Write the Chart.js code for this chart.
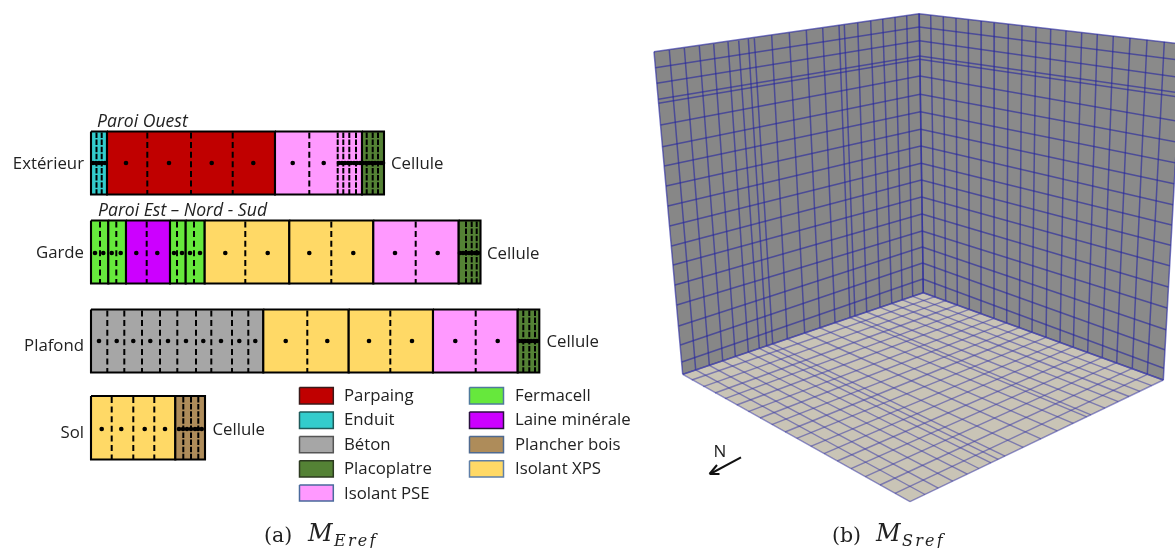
<!DOCTYPE html>
<html><head><meta charset="utf-8">
<style>html,body{margin:0;padding:0;background:#fff}canvas{display:block}</style>
<script src="https://cdn.jsdelivr.net/npm/chart.js@4"></script></head>
<body><canvas id="c" width="1175" height="548"></canvas>
<script>
// ---------- materials
const materials=['Parpaing','Enduit','Béton','Placoplatre','Isolant PSE','Fermacell','Laine minérale','Plancher bois','Isolant XPS'];
const materialColors=['#c00000','#33cccc','#a6a6a6','#548235','#ff99ff','#66e83c','#cc00ff','#ae8c5a','#ffd966'];
const materialEdges=['#3a1a1a','#1f5a5a','#555555','#2c3a20','#4a6a9c','#4f7a9c','#2a1040','#4f6a90','#5f7fa8'];
// ---------- walls
const wallNames=['Extérieur','Garde','Plafond','Sol'];
const wallTitles=['Paroi Ouest','Paroi Est – Nord - Sud'];
const wallTop=[131.5,220.5,309.5,396];
const wallBottom=[194.5,283.5,372.5,459.5];
const extEdges=[91,107,275,362,384];
const extLayers=[1,0,4,3];
const gardeEdges=[91,108.3,126,170,185.7,204.7,289.3,373.3,458.7,480.5];
const gardeLayers=[5,5,6,5,5,8,8,4,3];
const plafondEdges=[91,263.3,348.7,433,517.7,539.3];
const plafondLayers=[2,8,8,4,3];
const solEdges=[91,175.3,205];
const solLayers=[8,7];
// element boundaries (dashed)
const extDash=[147.3,191,232.7,309.3];
const extFine=[96.5,101.7,337.7,343.3,349.3,356,366.7,372.7,378];
const gardeDash=[100,116.3,146.7,177,194,245.3,331.3,415.7];
const gardeFine=[466,471.7,476.7];
const plafondDash=[107.3,124.3,142,160,177.3,196,211.3,232,248.3,307.3,390.3,475.7];
const plafondFine=[523.3,529.3,535];
const solDash=[111.7,133.3,154.3];
const solFine=[183.3,191,198.3];
// nodes
const extNodes=[93,96,99,102,105,126,169,211.7,253.3,292.7,323.7,339,342,345,348,351,354,357,360,363,366,369,372,375,378,381,383];
const gardeNodes=[95,103.3,111.7,120.7,136.3,157.3,174,182,190,200,225.3,267.7,309.3,353.3,395,437.7,460,463,466,469,472,475,478];
const plafondNodes=[99,116.7,133.3,150.3,168,186,203.3,221,239.3,255.3,285.7,327.3,369,412,455.3,497.7,519,522,525,528,531,534,537];
const solNodes=[101.7,121.3,144.7,165,179,183,187,191,195,198,201.7];
const nodeRows=[163,253,341,429];
// ---------- 3D mesh, left wall
const lwTopX=[654,669.3,684.3,699.3,713.7,728,738.7,748.3,754.3,771.7,789.3,806.3,822.7,839,844.3,857.7,870.7,882.7,895,906.7,919.3];
const lwTopY=[51.7,50,48,46,44,42,40.7,39,38.3,35.3,32.7,30.3,28,25.3,24.7,22.7,20.7,19,17.3,15.7,13.7];
const lwBotX=[682.7,695.7,709.3,722.7,735.3,748.3,759.3,766.7,772.7,787.3,804.7,820,835,850,855,866.7,880,891.7,902.3,912.7,923.3];
const lwBotY=[374.3,369.9,365.3,360.8,356.5,352.1,348.3,345.9,343.8,338.8,333,327.8,322.7,317.6,315.9,312,307.3,303.5,299.9,296.3,292.7];
const lwOuterX=[654,655.4,656.8,658.3,658.6,660.6,662.5,664.3,666.1,667.9,669.7,671.5,673.2,675,676.8,678.7,680.4,681.9,683];
const lwOuterY=[51.7,67.7,83.3,99.3,103.3,125,146.7,166,186,206,226,246,265,285,305,326,345,362,374.3];
const cornerX=[919,919.2,919.4,919.6,919.7,919.9,920.2,920.4,920.7,920.9,921.1,921.4,921.6,921.9,922.1,922.3,922.6,922.8,923.3];
const cornerY=[13.7,27,40.7,56,59.3,76,94.3,111.7,129.3,146,163.3,180,197,214,231,247,263,279,292.7];
// ---------- right wall
const rwTopX=[919,930.7,943.3,956,968.3,981.3,994.3,1008.3,1022,1036,1050.7,1066,1081.7,1097.3,1113.3,1130,1147,1164.3,1182];
const rwTopY=[13.7,15.3,16.7,18.3,19.7,21,22.7,24.3,25.7,27.3,29,30.7,32.7,34.3,36,38,39.7,41.7,44];
const rwBotX=[923.3,935,945.7,957.3,969.3,981,994,1006.7,1019.3,1032,1046,1060,1073.3,1087.7,1102.3,1116.7,1132.3,1147.3,1163.3];
const rwBotY=[292.7,296.7,300.7,305,309.3,313.3,318.3,322.7,327.7,332,337.3,342.3,346.7,352.3,357.3,362.7,368.3,374.3,380];
const rwOuterX=[1182,1180.7,1179.7,1179,1178.7,1177.7,1176.3,1175.3,1174,1173,1171.7,1170.7,1169.7,1168.3,1167,1166,1164.7,1163.7,1163.3];
const rwOuterY=[44,60.3,77.3,92.7,97,121.3,142,162.7,183.7,204.7,225,245.3,265.7,287,308,329.7,349.7,368.3,380];
// ---------- floor
const flFrontLeftX=[682.7,691.7,703.3,715,725,736.7,748.3,760,771.7,785,796.7,810.7,824,837.3,851,865.3,880,895,910];
const flFrontLeftY=[374.3,380,386.7,393,398.7,405,411.7,418,424.7,432,438.3,446.3,453.7,461,468.7,476.7,485,493.3,501.7];
const flFrontRightX=[910,925,938.3,952.7,967.3,979,991,998.3,1005,1023.3,1041,1057.3,1073.3,1086.7,1091,1105,1118.3,1129,1140,1151.7,1163.3];
const flFrontRightY=[501.7,494.5,488.1,481.2,474.1,468.5,462.8,459.3,456.1,447.3,438.8,430.9,423.3,416.9,414.8,408.1,401.7,396.5,391.3,385.7,380];

// ---------- build datasets in paint order
const ds=[];
const P=(x,y)=>({x,y});
function poly(pts,fill,stroke,w){ds.push({data:[...pts,pts[0]],showLine:true,fill:'shape',backgroundColor:fill,borderColor:stroke||fill,borderWidth:w===undefined?1:w,pointRadius:0,borderJoinStyle:'miter'});}
function lines(segs,color,w,dash,cap){const d=[];segs.forEach(s=>{d.push(s[0],s[1],P(null,null));});ds.push({data:d,showLine:true,fill:false,borderColor:color,borderWidth:w,borderDash:dash||[],pointRadius:0,spanGaps:false,borderCapStyle:cap||'butt'});}
function zipSegs(ax,ay,bx,by){return ax.map((v,i)=>[P(v,ay[i]),P(bx[i],by[i])]);}

// mesh surfaces
const LINE='rgba(38,38,160,0.62)',FLOORLINE='rgba(62,62,165,0.55)';
poly([P(lwTopX[0],lwTopY[0]),P(919,13.7),P(923.3,292.7),P(682.7,374.3)],'#878787','#878787',0);
poly([P(919,13.7),P(1182,44),P(1163.3,380),P(923.3,292.7)],'#8a8a8a','#8a8a8a',0);
poly([P(682.7,374.3),P(923.3,292.7),P(1163.3,380),P(910,501.7)],'#c9c4b6','#c9c4b6',0);
lines(zipSegs(lwTopX,lwTopY,lwBotX,lwBotY),LINE,1.5);
lines(zipSegs(lwOuterX,lwOuterY,cornerX,cornerY),LINE,1.5);
lines(zipSegs(rwTopX,rwTopY,rwBotX,rwBotY),LINE,1.5);
lines(zipSegs(cornerX,cornerY,rwOuterX,rwOuterY),LINE,1.5);
lines(zipSegs(rwBotX,rwBotY,flFrontLeftX,flFrontLeftY),FLOORLINE,1.4);
lines(zipSegs(lwBotX,lwBotY,flFrontRightX,flFrontRightY),FLOORLINE,1.4);
// north arrow
const northShaft=[[P(741,457.3),P(710,474)]];
const northHead=[[P(717,465),P(709.5,474)],[P(709.5,474),P(719.5,474)]];
lines(northShaft,'#111',2);
lines(northHead,'#111',2);

// walls
function wall(k,edges,layers,dash,fine,nodes){
  const t=wallTop[k],b=wallBottom[k];
  layers.forEach((m,i)=>poly([P(edges[i],t),P(edges[i+1],t),P(edges[i+1],b),P(edges[i],b)],materialColors[m],'#000',2.1));
  lines(dash.map(x=>[P(x,t+1),P(x,b)]),'#000',2,[6,3.6]);
  lines(fine.map(x=>[P(x,t+1),P(x,b)]),'#000',2,[5.5,1.6]);
  ds.push({data:nodes.map(x=>P(x,nodeRows[k])),showLine:false,pointRadius:2.3,pointBackgroundColor:'#000',pointBorderWidth:0});
}
wall(0,extEdges,extLayers,extDash,extFine,extNodes);
wall(1,gardeEdges,gardeLayers,gardeDash,gardeFine,gardeNodes);
wall(2,plafondEdges,plafondLayers,plafondDash,plafondFine,plafondNodes);
wall(3,solEdges,solLayers,solDash,solFine,solNodes);

// legend swatches
const swatchRows=[[387.5,404],[412,428.5],[436.5,452.8],[460.8,477],[485,501]];
const swatchCols=[[299.5,333.3],[469.5,503.5]];
materials.forEach((m,i)=>{const col=i<5?0:1,row=i<5?i:i-5,[x0,x1]=swatchCols[col],[y0,y1]=swatchRows[row];
  poly([P(x0,y0),P(x1,y0),P(x1,y1),P(x0,y1)],materialColors[i],materialEdges[i],1.5);});

ds.forEach((d,i)=>{d.order=ds.length-i;});

// ---------- text
const UI='"Open Sans"',S='16.8px '+UI,IT='italic 17.6px '+UI;
const MATH='italic 24px "DejaVu Serif"',SUB='italic 16px "DejaVu Serif"';
const texts=[
 [wallNames[0],84,169,S,'right'],[wallNames[1],84,258,S,'right'],
 [wallNames[2],84,351,S,'right'],[wallNames[3],84,438,S,'right'],
 ['Cellule',391,169,S,'left'],['Cellule',487,259,S,'left'],
 ['Cellule',546.5,347,S,'left'],['Cellule',212.5,435,S,'left'],
 [wallTitles[0],97,126.5,IT,'left'],[wallTitles[1],98,216,IT,'left'],
 ['N',720,456.5,'17px '+UI,'center'],
 ['(a)',264,542,'20.5px "DejaVu Serif"','left'],['(b)',832,542,'20.5px "DejaVu Serif"','left'],
 ['M',308,541,MATH,'left'],['M',876,541,MATH,'left'],
 ['Eref',334,546,SUB,'left',2.2],['Sref',902,546,SUB,'left',2.2]
];
const legY=[400.7,425,450,474,499];
materials.forEach((m,i)=>{texts.push([m,i<5?344:515,legY[i<5?i:i-5],S,'left']);});

const textPlugin={id:'texts',afterDatasetsDraw(ch){const c=ch.ctx,sx=ch.scales.x,sy=ch.scales.y;c.save();c.fillStyle='#222';c.textBaseline='alphabetic';
  texts.forEach(([s,x,y,f,a,ls])=>{c.font=f;c.textAlign=a;c.letterSpacing=(ls||0)+'px';c.fillText(s,sx.getPixelForValue(x),sy.getPixelForValue(y));});c.restore();}};

new Chart(document.getElementById('c'),{type:'scatter',data:{datasets:ds},plugins:[textPlugin],
 options:{responsive:false,animation:false,devicePixelRatio:1,layout:{padding:0,autoPadding:false},
  plugins:{legend:{display:false},tooltip:{enabled:false},title:{display:false}},
  scales:{x:{type:'linear',min:0,max:1175,display:false},y:{type:'linear',min:0,max:548,reverse:true,display:false}}}});
</script></body></html>
